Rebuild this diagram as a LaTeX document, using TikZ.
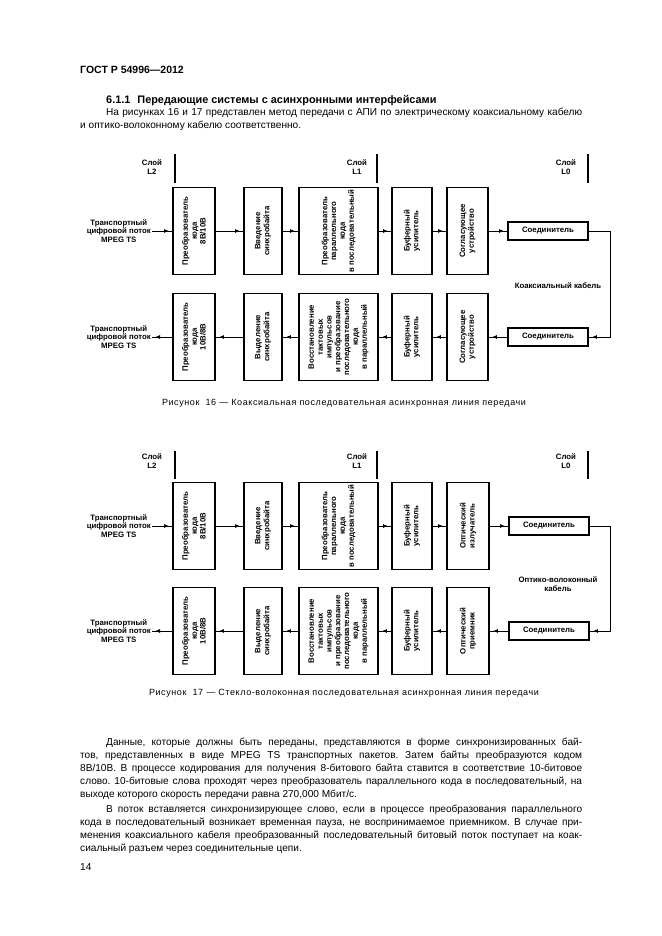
\documentclass[tikz,border=0pt]{standalone}
\usepackage{fontspec}
\setmainfont{Liberation Sans}
\newfontfamily\capfont[LetterSpace=6.5]{Liberation Sans}
\usetikzlibrary{
    arrows.meta,
    decorations.markings
}
\frenchspacing

% one justified line of the page text
\newcommand\jline[1]{\makebox[502pt][s]{#1}}

\begin{document}
\begin{tikzpicture}[
        x=1pt, y=-1pt,
        vblock/.style={
            rectangle,
            draw,
            line width=1.8pt,
            rotate=90,
            align=center,
            inner sep=1pt,
            minimum width=87pt,
            font=\fontsize{7.8}{8.8}\selectfont\bfseries
        },
        hblock/.style={
            rectangle,
            draw,
            line width=1.8pt,
            minimum width=80pt,
            minimum height=18pt,
            inner sep=1pt,
            font=\fontsize{7.8}{8.8}\selectfont\bfseries
        },
        tag/.style={
            align=center,
            inner sep=1pt,
            font=\fontsize{7.8}{8.6}\selectfont\bfseries
        },
        line/.style={
            line width=1pt,
            postaction={decorate},
            decoration={
                markings,
                mark=at position -3pt with {\arrow{Latex[length=5pt,width=4pt]}}
            }
        },
        layer/.style={
            line width=1.4pt
        },
        pline/.style={
            anchor=base west,
            inner sep=0pt,
            font=\fontsize{10.1}{13}\selectfont
        },
        caption/.style={
            inner sep=0pt,
            font=\capfont\fontsize{9}{10}\selectfont
        }
    ]

    \useasboundingbox (0,0) rectangle (661,936);

    % page text above the figures
    \node[pline, font=\fontsize{10.5}{13}\selectfont\bfseries]
        (gost) at (80,73.5) {ГОСТ Р 54996—2012};
    \node[pline, font=\fontsize{10.9}{13}\selectfont\bfseries]
        (section) at (106,103.5) {6.1.1\hspace{7pt}Передающие системы с асинхронными интерфейсами};
    \node[pline] (intro1) at (80,115.5)
        {\jline{\hspace*{26pt}На рисунках 16 и 17 представлен метод передачи с АПИ по электрическому коаксиальному кабелю}};
    \node[pline] (intro2) at (80,128.5)
        {и оптико-волоконному кабелю соответственно.};

    % ---------- figure 16 ----------
    \node[tag] (lay16a) at (152,167) {Слой\\L2};
    \node[tag] (lay16b) at (357,167) {Слой\\L1};
    \node[tag] (lay16c) at (566,167) {Слой\\L0};
    \draw[layer] (175,154) -- (175,183);
    \draw[layer] (377,154) -- (377,183);
    \draw[layer] (588,154) -- (588,183);

    \node[tag, anchor=east] (t16in) at (152,231)
        {Транспортный\\цифровой поток\\MPEG TS};
    \node[vblock, minimum height=42pt] (t16cod) at (194,231)
        {Преобразователь\\кода\\8B/10B};
    \node[vblock, minimum height=38pt] (t16syn) at (263,231)
        {Введение\\синхробайта};
    \node[vblock, minimum height=79pt] (t16ps) at (338.5,231)
        {Преобразователь\\параллельного\\кода\\в последовательный};
    \node[vblock, minimum height=40pt] (t16buf) at (412,231)
        {Буферный\\усилитель};
    \node[vblock, minimum height=41pt] (t16mat) at (467.5,231)
        {Согласующее\\устройство};
    \node[hblock] (t16con) at (548,231) {Соединитель};

    \node[tag, anchor=east] (b16out) at (152,337)
        {Транспортный\\цифровой поток\\MPEG TS};
    \node[vblock, minimum height=42pt] (b16cod) at (194,337)
        {Преобразователь\\кода\\10B/8B};
    \node[vblock, minimum height=38pt] (b16syn) at (263,337)
        {Выделение\\синхробайта};
    \node[vblock, minimum height=79pt] (b16sp) at (338.5,337)
        {Восстановление\\тактовых\\импульсов\\и преобразование\\последовательного\\кода\\в параллельный};
    \node[vblock, minimum height=40pt] (b16buf) at (412,337)
        {Буферный\\усилитель};
    \node[vblock, minimum height=41pt] (b16mat) at (467.5,337)
        {Согласующее\\устройство};
    \node[hblock] (b16con) at (548,337) {Соединитель};

    \node[tag] (cab16) at (558,286) {Коаксиальный кабель};
    \coordinate (turn16) at (610,231);

    \draw[line] (t16in.east) -- (t16cod);
    \draw[line] (t16cod) -- (t16syn);
    \draw[line] (t16syn) -- (t16ps);
    \draw[line] (t16ps) -- (t16buf);
    \draw[line] (t16buf) -- (t16mat);
    \draw[line] (t16mat) -- (t16con);
    \draw[line] (t16con.east) -- (turn16) |- (b16con.east);
    \draw[line] (b16con) -- (b16mat);
    \draw[line] (b16mat) -- (b16buf);
    \draw[line] (b16buf) -- (b16sp);
    \draw[line] (b16sp) -- (b16syn);
    \draw[line] (b16syn) -- (b16cod);
    \draw[line] (b16cod) -- (b16out.east);

    \node[caption] (cap16) at (344,403)
        {Рисунок\ \ 16 — Коаксиальная последовательная асинхронная линия передачи};

    % ---------- figure 17 ----------
    \node[tag] (lay17a) at (152,461) {Слой\\L2};
    \node[tag] (lay17b) at (357,461) {Слой\\L1};
    \node[tag] (lay17c) at (566,461) {Слой\\L0};
    \draw[layer] (175,451) -- (175,479);
    \draw[layer] (377,451) -- (377,479);
    \draw[layer] (588,451) -- (588,479);

    \node[tag, anchor=east] (t17in) at (152,526)
        {Транспортный\\цифровой поток\\MPEG TS};
    \node[vblock, minimum height=42pt] (t17cod) at (194,526)
        {Преобразователь\\кода\\8B/10B};
    \node[vblock, minimum height=38pt] (t17syn) at (263,526)
        {Введение\\синхробайта};
    \node[vblock, minimum height=79pt] (t17ps) at (338.5,526)
        {Преобразователь\\параллельного\\кода\\в последовательный};
    \node[vblock, minimum height=40pt] (t17buf) at (412,526)
        {Буферный\\усилитель};
    \node[vblock, minimum height=42pt] (t17emi) at (468,526)
        {Оптический\\излучатель};
    \node[hblock] (t17con) at (549,526) {Соединитель};

    \node[tag, anchor=east] (b17out) at (152,631)
        {Транспортный\\цифровой поток\\MPEG TS};
    \node[vblock, minimum height=42pt] (b17cod) at (194,631)
        {Преобразователь\\кода\\10B/8B};
    \node[vblock, minimum height=38pt] (b17syn) at (263,631)
        {Выделение\\синхробайта};
    \node[vblock, minimum height=79pt] (b17sp) at (338.5,631)
        {Восстановление\\тактовых\\импульсов\\и преобразование\\последовательного\\кода\\в параллельный};
    \node[vblock, minimum height=40pt] (b17buf) at (412,631)
        {Буферный\\усилитель};
    \node[vblock, minimum height=42pt] (b17rec) at (468,631)
        {Оптический\\приемник};
    \node[hblock] (b17con) at (549,631) {Соединитель};

    \node[tag] (cab17) at (558,584) {Оптико-волоконный\\кабель};
    \coordinate (turn17) at (610,526);

    \draw[line] (t17in.east) -- (t17cod);
    \draw[line] (t17cod) -- (t17syn);
    \draw[line] (t17syn) -- (t17ps);
    \draw[line] (t17ps) -- (t17buf);
    \draw[line] (t17buf) -- (t17emi);
    \draw[line] (t17emi) -- (t17con);
    \draw[line] (t17con.east) -- (turn17) |- (b17con.east);
    \draw[line] (b17con) -- (b17rec);
    \draw[line] (b17rec) -- (b17buf);
    \draw[line] (b17buf) -- (b17sp);
    \draw[line] (b17sp) -- (b17syn);
    \draw[line] (b17syn) -- (b17cod);
    \draw[line] (b17cod) -- (b17out.east);

    \node[caption] (cap17) at (344,693)
        {Рисунок\ \ 17 — Стекло-волоконная последовательная асинхронная линия передачи};

    % page text below the figures
    \node[pline] (p1a) at (80,745.5)
        {\jline{\hspace*{26pt}Данные, которые должны быть переданы, представляются в форме синхронизированных бай-}};
    \node[pline] (p1b) at (80,758.5)
        {\jline{тов, представленных в виде MPEG TS транспортных пакетов. Затем байты преобразуются кодом}};
    \node[pline] (p1c) at (80,771.5)
        {\jline{8B/10B. В процессе кодирования для получения 8-битового байта ставится в соответствие 10-битовое}};
    \node[pline] (p1d) at (80,784.5)
        {\jline{слово. 10-битовые слова проходят через преобразователь параллельного кода в последовательный, на}};
    \node[pline] (p1e) at (80,797.5)
        {выходе которого скорость передачи равна 270,000 Мбит/с.};
    \node[pline] (p2a) at (80,812.5)
        {\jline{\hspace*{26pt}В поток вставляется синхронизирующее слово, если в процессе преобразования параллельного}};
    \node[pline] (p2b) at (80,825.5)
        {\jline{кода в последовательный возникает временная пауза, не воспринимаемое приемником. В случае при-}};
    \node[pline] (p2c) at (80,838.5)
        {\jline{менения коаксиального кабеля преобразованный последовательный битовый поток поступает на коак-}};
    \node[pline] (p2d) at (80,851.5)
        {сиальный разъем через соединительные цепи.};
    \node[pline] (pageno) at (80,870.5) {14};

\end{tikzpicture}
\end{document}
